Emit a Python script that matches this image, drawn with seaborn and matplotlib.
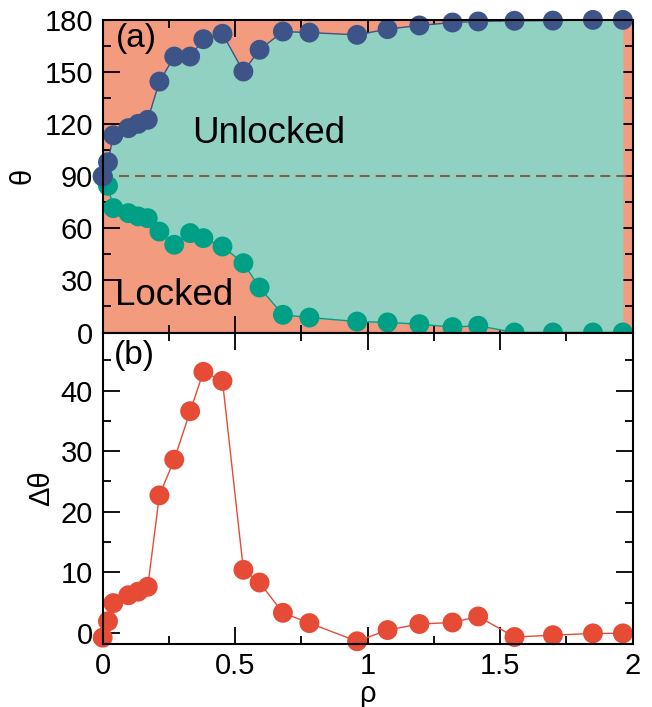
import numpy as np
import pandas as pd
import matplotlib
matplotlib.use("Agg")
import matplotlib.pyplot as plt
from matplotlib.ticker import MultipleLocator
import seaborn as sns

# coupling strength
rho = [0.0, 0.02, 0.04, 0.097, 0.134, 0.17, 0.214, 0.27, 0.33, 0.38, 0.452,
       0.531, 0.592, 0.68, 0.78, 0.96, 1.075, 1.195, 1.32, 1.417, 1.554,
       1.699, 1.85, 1.963]
# upper and lower boundaries of the unlocked region (degrees)
theta_upper = [89.8, 98.0, 113.5, 117.6, 120.1, 122.4, 144.4, 158.8, 158.8,
               168.8, 171.9, 150.2, 162.7, 173.2, 172.6, 171.3, 174.6, 176.7,
               178.4, 179.0, 179.4, 179.5, 179.9, 179.9]
theta_lower = [90.0, 84.4, 71.6, 68.7, 66.8, 65.8, 58.1, 50.5, 57.2, 54.3,
               49.5, 39.9, 25.9, 10.2, 8.6, 6.3, 5.8, 4.8, 3.1, 3.9, 0.0,
               0.0, 0.0, 0.0]
# asymmetry of the boundaries
delta_theta = [-0.8, 1.9, 4.9, 6.2, 6.8, 7.6, 22.7, 28.6, 36.6, 43.1, 41.6,
               10.4, 8.3, 3.3, 1.6, -1.4, 0.45, 1.45, 1.7, 2.7, -0.7, -0.4,
               -0.1, -0.1]

x_ticks = [0, 0.5, 1, 1.5, 2]
x_ticklabels = ["0", "0.5", "1", "1.5", "2"]
theta_ticks = [0, 30, 60, 90, 120, 150, 180]
dtheta_ticks = [0, 10, 20, 30, 40]

df = pd.DataFrame({"rho": rho, "upper": theta_upper,
                   "lower": theta_lower, "dtheta": delta_theta})

sns.set_theme(style="ticks")
plt.rcParams["font.family"] = ["Liberation Sans", "DejaVu Sans"]
plt.rcParams["text.color"] = "black"
plt.rcParams["axes.labelcolor"] = "black"
plt.rcParams["xtick.color"] = "black"
plt.rcParams["ytick.color"] = "black"

SALMON = "#F39B7F"
TEAL = "#91D1C2"
BLUE = "#3C5488"
GREEN = "#00A087"
RED = "#E64B35"
BROWN = "#7E6148"
FS = 21
FS_PANEL = 24
FS_REGION = 26.5

fig = plt.figure(figsize=(6.52, 7.07), dpi=100)
ax1 = fig.add_axes([0.1575, 0.5297, 0.8129, 0.4424])
ax2 = fig.add_axes([0.1575, 0.0887, 0.8129, 0.4410])

# ---- panel (a): locked / unlocked regions
ax1.set_facecolor(SALMON)
ax1.fill_between(df["rho"], df["lower"], df["upper"], color=TEAL, lw=0, zorder=1)
ax1.axhline(90, color=BROWN, lw=1.5, dashes=(4.8, 2.9), zorder=2)
ms = 205
sns.lineplot(data=df, x="rho", y="lower", ax=ax1, color=GREEN, lw=1.0,
             sort=False, zorder=3)
sns.scatterplot(data=df, x="rho", y="lower", ax=ax1, color=GREEN, s=ms,
                edgecolor="none", zorder=4, clip_on=False)
sns.lineplot(data=df, x="rho", y="upper", ax=ax1, color=BLUE, lw=1.0,
             sort=False, zorder=5)
sns.scatterplot(data=df, x="rho", y="upper", ax=ax1, color=BLUE, s=ms,
                edgecolor="none", zorder=6, clip_on=False)
ax1.set_xlim(0, 2)
ax1.set_ylim(0, 180)
ax1.set_yticks(theta_ticks)
ax1.set_xticks(x_ticks)
ax1.set_xticklabels([])
ax1.yaxis.set_minor_locator(MultipleLocator(15))
ax1.set_xlabel("")
ax1.set_ylabel("θ", fontsize=FS, labelpad=5.5)
ax1.text(0.025, 0.94, "(a)", transform=ax1.transAxes, fontsize=FS_PANEL,
         ha="left", va="center", zorder=7)
ax1.text(0.314, 0.635, "Unlocked", transform=ax1.transAxes, fontsize=FS_REGION,
         ha="center", va="center", zorder=7)
ax1.text(0.135, 0.117, "Locked", transform=ax1.transAxes, fontsize=FS_REGION,
         ha="center", va="center", zorder=7)

# ---- panel (b): boundary asymmetry
sns.lineplot(data=df, x="rho", y="dtheta", ax=ax2, color=RED, lw=1.0,
             sort=False, zorder=3)
sns.scatterplot(data=df, x="rho", y="dtheta", ax=ax2, color=RED, s=ms,
                edgecolor="none", zorder=4, clip_on=False)
ax2.set_xlim(0, 2)
ax2.set_ylim(-1.9, 49.6)
ax2.set_xticks(x_ticks)
ax2.set_xticklabels(x_ticklabels)
ax2.set_yticks(dtheta_ticks)
ax2.yaxis.set_minor_locator(MultipleLocator(5))
ax2.set_xlabel("ρ", fontsize=FS, labelpad=0)
ax2.set_ylabel("Δθ", fontsize=FS, labelpad=4)
ax2.text(0.021, 0.925, "(b)", transform=ax2.transAxes, fontsize=FS_PANEL,
         ha="left", va="center", zorder=7)

for ax in (ax1, ax2):
    ax.xaxis.set_minor_locator(MultipleLocator(0.25))
    ax.tick_params(which="both", direction="in", top=True, right=True,
                   labelsize=FS, width=1.3, color="black", labelcolor="black",
                   pad=7)
    ax.tick_params(which="major", length=12)
    ax.tick_params(which="minor", length=6)
    ax.tick_params(axis="x", pad=5.5)
    for s in ax.spines.values():
        s.set_visible(True)
        s.set_linewidth(1.5)
        s.set_color("black")
        s.set_zorder(10)

fig.savefig("out.png", dpi=100)
